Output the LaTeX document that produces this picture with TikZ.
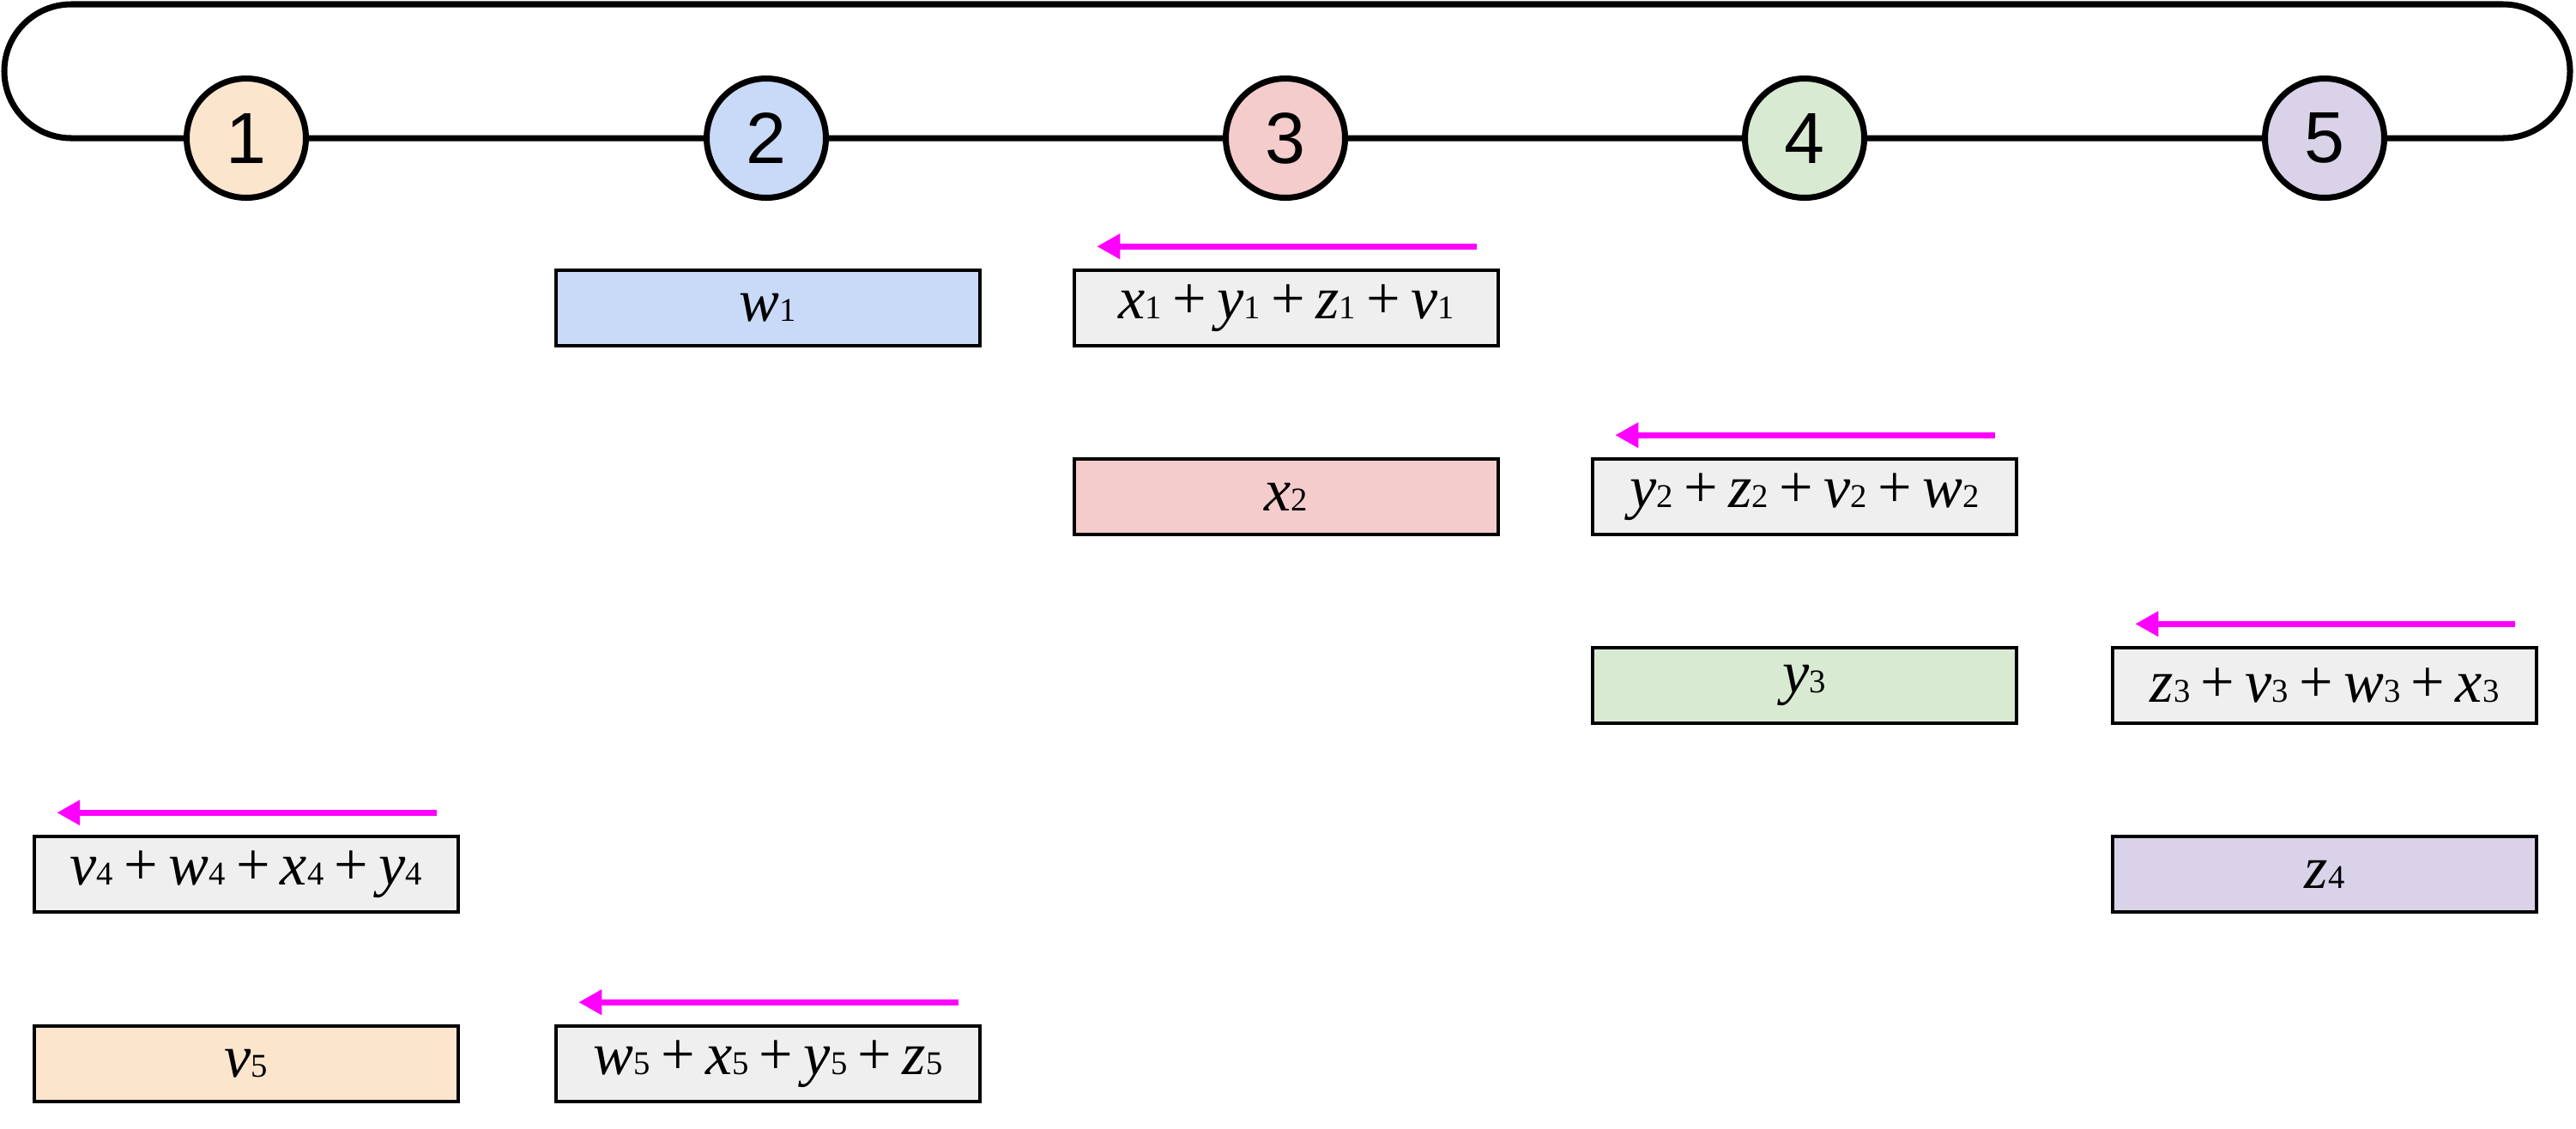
\documentclass[tikz,border=0pt]{standalone}
\usepackage{fontspec}
\setmainfont{Liberation Serif}
\newfontfamily\numfont{Liberation Sans}
\usepackage{xcolor}
\usetikzlibrary{arrows.meta}
\usetikzlibrary{positioning}

\definecolor{orng}{HTML}{FCE5CD}
\definecolor{blu}{HTML}{C9DAF8}
\definecolor{rd}{HTML}{F4CCCC}
\definecolor{grn}{HTML}{D9EAD3}
\definecolor{purp}{HTML}{D9D2E9}
\definecolor{sumgray}{HTML}{EFEFEF}
\definecolor{pink}{HTML}{FF00FF}

\newcommand{\vr}[2]{\textit{#1}{\fontsize{11}{13}\selectfont #2}}
\newcommand{\pl}{\hspace{3.5pt}+\hspace{3.5pt}}

\begin{document}
\begin{tikzpicture}[
    node distance = 1mm,
    box/.style = {draw, rectangle, line width=1pt, minimum width=4.94cm,
      minimum height=0.88cm, inner sep=0pt, font=\fontsize{20}{24}\selectfont},
    sum/.style = {box, fill=sumgray},
    ring/.style = {draw, circle, line width=2pt, minimum size=1.39cm,
      inner sep=0pt, font=\numfont\fontsize{24}{28}\selectfont},
    pointer/.style = {-{Triangle[length=2.7mm,width=2.8mm]}, line width=2pt, pink}]
    \useasboundingbox (0,0) rectangle (30.02,-13.15);
    % ring of workers
    \node[ring, fill=orng] (c1) at (2.87,-1.61) {1};
    \node[ring, fill=blu]  (c2) at (8.93,-1.61) {2};
    \node[ring, fill=rd]   (c3) at (14.98,-1.61) {3};
    \node[ring, fill=grn]  (c4) at (21.03,-1.61) {4};
    \node[ring, fill=purp] (c5) at (27.09,-1.61) {5};
    \coordinate (L)  at (0.83,-1.61);
    \coordinate (LT) at (0.83,-0.05);
    \coordinate (R)  at (29.17,-1.61);
    \coordinate (RT) at (29.17,-0.05);
    \draw[line width=2pt]
      (c1) -- (c2) (c2) -- (c3) (c3) -- (c4) (c4) -- (c5)
      (c5) -- (R) arc (-90:90:0.78) -- (LT) arc (90:270:0.78) -- (c1) ;
    % chunks
    \node[box, fill=blu]  (w1) at (8.95,-3.59)  {\vr{w}{1}};
    \node[sum]            (s1) at (14.99,-3.59) {\vr{x}{1}\pl\vr{y}{1}\pl\vr{z}{1}\pl\vr{v}{1}};
    \node[box, fill=rd]   (x2) at (14.99,-5.79) {\vr{x}{2}};
    \node[sum]            (s2) at (21.03,-5.79) {\vr{y}{2}\pl\vr{z}{2}\pl\vr{v}{2}\pl\vr{w}{2}};
    \node[box, fill=grn]  (y3) at (21.03,-7.99) {\vr{y}{3}};
    \node[sum]            (s3) at (27.09,-7.99) {\vr{z}{3}\pl\vr{v}{3}\pl\vr{w}{3}\pl\vr{x}{3}};
    \node[sum]            (s4) at (2.87,-10.19) {\vr{v}{4}\pl\vr{w}{4}\pl\vr{x}{4}\pl\vr{y}{4}};
    \node[box, fill=purp] (z4) at (27.09,-10.19) {\vr{z}{4}};
    \node[box, fill=orng] (v5) at (2.87,-12.40) {\vr{v}{5}};
    \node[sum]            (s5) at (8.95,-12.40) {\vr{w}{5}\pl\vr{x}{5}\pl\vr{y}{5}\pl\vr{z}{5}};
    %\tikzstyle{pointer}=[->,>=stealth]
    \foreach \s in {s1,s2,s3,s4,s5}
      \draw[pointer] ([shift={(-0.27,0.26)}]\s.north east) -- ([shift={(0.28,0.26)}]\s.north west);
  \end{tikzpicture}
\end{document}
